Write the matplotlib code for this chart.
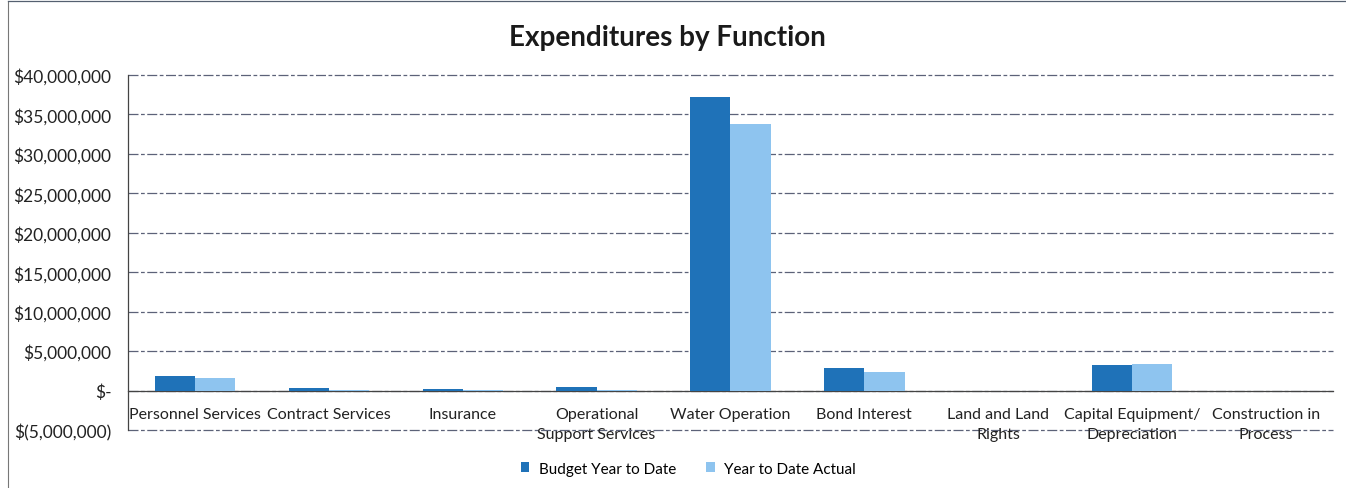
import matplotlib
matplotlib.use("Agg")
import matplotlib.pyplot as plt
import numpy as np

categories = ["Personnel Services", "Contract Services", "Insurance",
              "Operational\nSupport Services", "Water Operation", "Bond Interest",
              "Land and Land\nRights", "Capital Equipment/\nDepreciation",
              "Construction in\nProcess"]
budget_ytd = [1900000, 350000, 250000, 450000, 37250000, 2870000, 0, 3200000, 0]
actual_ytd = [1600000, 100000, 50000, 20000, 33800000, 2370000, 0, 3400000, 0]
y_ticks = [-5000000, 0, 5000000, 10000000, 15000000, 20000000, 25000000,
           30000000, 35000000, 40000000]
y_labels = ["$(5,000,000)", "$-", "$5,000,000", "$10,000,000", "$15,000,000",
            "$20,000,000", "$25,000,000", "$30,000,000", "$35,000,000", "$40,000,000"]
series_names = ["Budget Year to Date", "Year to Date Actual"]

plt.rcParams["font.family"] = ["Lato", "DejaVu Sans"]

fig = plt.figure(figsize=(13.46, 4.89), dpi=100)
ax = fig.add_axes([0.0951, 0.1186, 0.8952, 0.726])

x = np.arange(len(categories))
w = 0.3
dark = "#1f72b8"
light = "#8ec4ef"
ax.bar(x - w / 2, budget_ytd, width=w, color=dark, label=series_names[0], zorder=3)
ax.bar(x + w / 2, actual_ytd, width=w, color=light, label=series_names[1], zorder=3)

ax.set_xlim(-0.5, len(categories) - 0.5)
ax.set_ylim(-5000000, 40000000)
ax.set_yticks(y_ticks)
ax.set_yticklabels(y_labels, fontsize=12.5, color="#222222")

for yv in y_ticks:
    ax.axhline(yv, color="#3f4660", linewidth=0.9, linestyle=(0, (8, 2, 3, 2)),
               zorder=1, alpha=0.85, clip_on=False)

for s in ["top", "right"]:
    ax.spines[s].set_visible(False)
ax.spines["left"].set_color("#444444")
ax.spines["left"].set_linewidth(0.9)
ax.spines["bottom"].set_position(("data", 0))
ax.spines["bottom"].set_color("#444444")
ax.spines["bottom"].set_linewidth(0.9)

ax.set_xticks(x)
ax.set_xticklabels(categories, fontsize=11.5, color="#222222", linespacing=1.5)
ax.tick_params(axis="x", length=0, pad=12)
ax.tick_params(axis="y", length=0, pad=12)

fig.text(0.496, 0.923, "Expenditures by Function", ha="center", va="center",
         fontsize=20, fontweight="bold", color="#1a1a1a")

ax.legend(loc="upper center", bbox_to_anchor=(0.465, -0.05), ncol=2, frameon=False,
          fontsize=11, handlelength=0.55, handleheight=0.55, columnspacing=2.0,
          handletextpad=0.6)

# outer chart frame
fig.add_artist(plt.Line2D([0.006, 0.006], [0.0, 0.995], color="#777777", linewidth=0.8))
fig.add_artist(plt.Line2D([0.006, 1.0], [0.995, 0.995], color="#556070", linewidth=0.9))

fig.savefig("out.png", dpi=100)
